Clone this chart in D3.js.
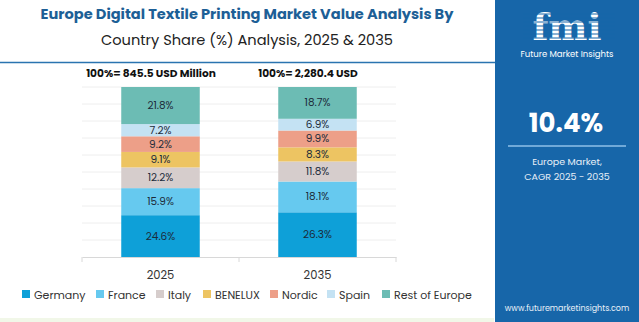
<!DOCTYPE html>
<html>
<head>
<meta charset="utf-8">
<script src="https://cdn.jsdelivr.net/npm/d3@7"></script>
<style>
  body { margin: 0; background: #fff; }
  svg { display: block; font-family: "Poppins", Inter, "Open Sans", sans-serif; }
</style>
</head>
<body>
<div id="root"></div>
<script>
const width = 639;
const height = 322;

const years = ["2025", "2035"];
const totals = ["100%= 845.5 USD Million", "100%= 2,280.4 USD"];
const countries = ["Germany", "France", "Italy", "BENELUX", "Nordic", "Spain", "Rest of Europe"];
const share2025 = [24.6, 15.9, 12.2, 9.1, 9.2, 7.2, 21.8];
const share2035 = [26.3, 18.1, 11.8, 8.3, 9.9, 6.9, 18.7];
const colors = ["#0ea0d8", "#66c9ef", "#d6cdcc", "#edc462", "#ed9f88", "#c4e2f3", "#6cbcb4"];

const svg = d3.select("#root").append("svg")
  .attr("width", width)
  .attr("height", height);

// title
svg.append("text")
  .attr("x", 247).attr("y", 19)
  .attr("text-anchor", "middle")
  .style("font-size", "14.6px").style("font-weight", "700")
  .style("fill", "#1d5f96")
  .text("Europe Digital Textile Printing Market Value Analysis By");
svg.append("text")
  .attr("x", 247).attr("y", 45)
  .attr("text-anchor", "middle")
  .style("font-size", "14.6px")
  .style("fill", "#222")
  .text("Country Share (%) Analysis, 2025 & 2035");

svg.append("line")
  .attr("x1", 0).attr("x2", 496).attr("y1", 62.5).attr("y2", 62.5)
  .style("stroke", "#2a74b0").style("stroke-width", 1.5);

// scales
const xScale = d3.scaleBand().domain(years).range([82, 396]).paddingInner(0.5).paddingOuter(0.25);
const yScale = d3.scaleLinear().domain([0, 100]).range([257, 87]);

// gridlines
svg.append("g")
  .selectAll("line")
  .data(d3.range(10, 101, 10))
  .enter().append("line")
  .attr("x1", 82).attr("x2", 396)
  .attr("y1", d => yScale(d)).attr("y2", d => yScale(d))
  .style("stroke", "#eeeeee").style("stroke-width", 1);

// stacked bars
const rows = years.map((y, i) => {
  const vals = i === 0 ? share2025 : share2035;
  const row = { year: y };
  countries.forEach((c, k) => row[c] = vals[k]);
  return row;
});
const series = d3.stack().keys(countries)(rows);

const layer = svg.append("g").selectAll("g")
  .data(series).enter().append("g")
  .style("fill", (d, i) => colors[i]);

layer.selectAll("rect")
  .data(d => d)
  .enter().append("rect")
  .attr("x", d => xScale(d.data.year))
  .attr("width", xScale.bandwidth())
  .attr("y", d => yScale(d[1]))
  .attr("height", d => yScale(d[0]) - yScale(d[1]));

layer.selectAll("text")
  .data(d => d.map(p => ({ p, key: d.key })))
  .enter().append("text")
  .attr("x", d => xScale(d.p.data.year) + xScale.bandwidth() / 2)
  .attr("y", d => (yScale(d.p[0]) + yScale(d.p[1])) / 2 + 3.5)
  .attr("text-anchor", "middle")
  .style("font-size", "10.5px")
  .style("fill", "#1c2b3a")
  .text(d => d.p.data[d.key].toFixed(1) + "%");

// totals above bars
svg.append("g").selectAll("text")
  .data(years)
  .enter().append("text")
  .attr("x", d => xScale(d) + xScale.bandwidth() / 2 - 9.5)
  .attr("y", 77)
  .attr("text-anchor", "middle")
  .style("font-size", "10.6px").style("font-weight", "700")
  .style("fill", "#111")
  .text((d, i) => totals[i]);

// x axis
const xAxis = d3.axisBottom(xScale).tickSize(0).tickPadding(14);
const gx = svg.append("g")
  .attr("transform", "translate(0,257)")
  .call(xAxis);
gx.select(".domain").style("stroke", "#d8d8d8");
gx.selectAll("text").style("font-size", "11.5px").style("fill", "#333")
  .style("font-family", "Poppins, Inter, sans-serif");
gx.append("g").selectAll("line")
  .data([82, 239, 396])
  .enter().append("line")
  .attr("x1", d => d).attr("x2", d => d)
  .attr("y1", 0).attr("y2", 5)
  .style("stroke", "#d8d8d8");

// legend
const legendX = [22, 96, 156, 203, 270, 327, 382];
const legend = svg.append("g").selectAll("g")
  .data(countries)
  .enter().append("g")
  .attr("transform", (d, i) => `translate(${legendX[i]},295)`);
legend.append("rect")
  .attr("x", 0).attr("y", -5).attr("width", 8).attr("height", 8)
  .style("fill", (d, i) => colors[i]);
legend.append("text")
  .attr("x", 12).attr("y", 3.5)
  .style("font-size", "11px").style("fill", "#333")
  .text(d => d);

// bottom strip
svg.append("rect")
  .attr("x", 0).attr("y", 318).attr("width", 494).attr("height", 4)
  .style("fill", "#f1f7e8");

// side panel
const panel = svg.append("g").attr("transform", "translate(495,0)");
panel.append("rect")
  .attr("width", 144).attr("height", height)
  .style("fill", "#1766a9");

// logo
panel.append("text")
  .attr("x", 72).attr("y", 40)
  .attr("text-anchor", "middle")
  .style("font-size", "37px").style("font-weight", "800")
  .style("font-family", "'DejaVu Serif', serif")
  .style("fill", "#fff")
  .text("fmi");
panel.append("g").selectAll("line")
  .data(d3.range(14, 41, 4))
  .enter().append("line")
  .attr("x1", 28).attr("x2", 120)
  .attr("y1", d => d).attr("y2", d => d)
  .style("stroke", "#1766a9").style("stroke-width", 1.2);
panel.append("text")
  .attr("x", 72).attr("y", 57)
  .attr("text-anchor", "middle")
  .style("font-size", "8.5px")
  .style("fill", "#fff")
  .text("Future Market Insights");

panel.append("text")
  .attr("x", 71).attr("y", 132)
  .attr("text-anchor", "middle")
  .style("font-size", "26px").style("font-weight", "700")
  .style("fill", "#fff")
  .text("10.4%");
panel.append("line")
  .attr("x1", 13).attr("x2", 131).attr("y1", 146).attr("y2", 146)
  .style("stroke", "#8fc0e8").style("stroke-width", 1.5);
panel.append("text")
  .attr("x", 72).attr("y", 165)
  .attr("text-anchor", "middle")
  .style("font-size", "9.5px").style("fill", "#e8f0f8")
  .text("Europe Market,");
panel.append("text")
  .attr("x", 72).attr("y", 180)
  .attr("text-anchor", "middle")
  .style("font-size", "9.5px").style("fill", "#e8f0f8")
  .text("CAGR 2025 - 2035");
panel.append("text")
  .attr("x", 72).attr("y", 311)
  .attr("text-anchor", "middle")
  .style("font-size", "8px").style("fill", "#e8f0f8")
  .text("www.futuremarketinsights.com");
</script>
</body>
</html>
